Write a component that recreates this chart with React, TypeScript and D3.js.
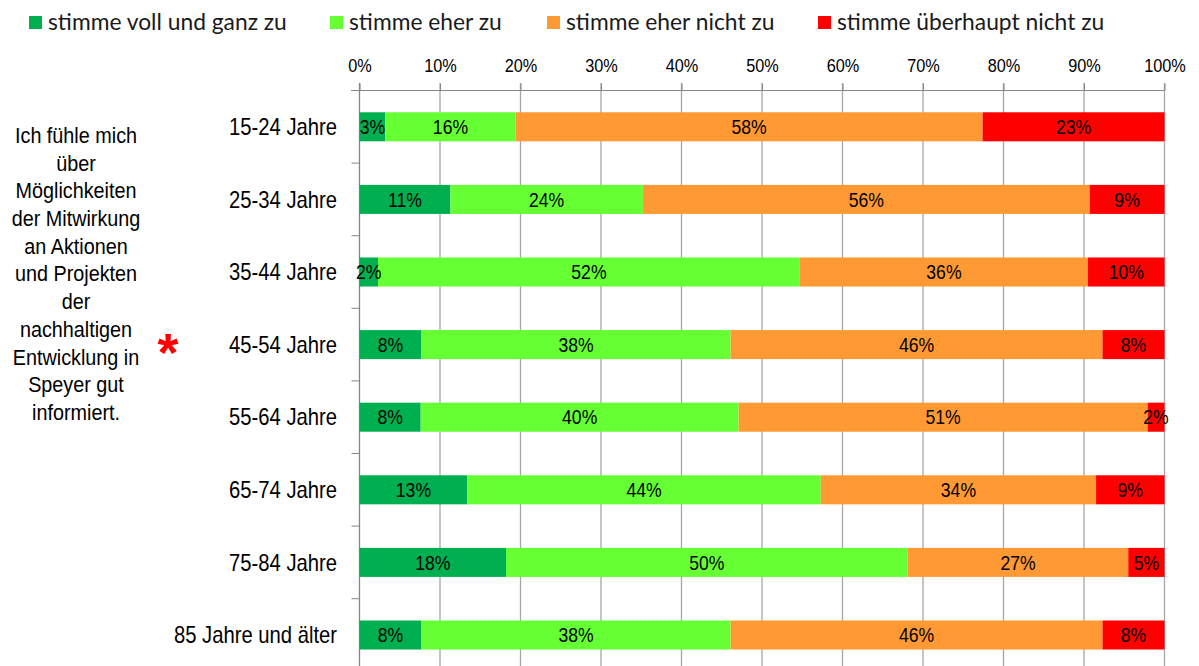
import React, { useEffect, useRef } from "react";
import * as d3 from "d3";

const categories = [
  "15-24 Jahre",
  "25-34 Jahre",
  "35-44 Jahre",
  "45-54 Jahre",
  "55-64 Jahre",
  "65-74 Jahre",
  "75-84 Jahre",
  "85 Jahre und älter",
];

const seriesNames = [
  "stimme voll und ganz zu",
  "stimme eher zu",
  "stimme eher nicht zu",
  "stimme überhaupt nicht zu",
];

const vollUndGanz = [3.2, 11.3, 2.3, 7.7, 7.6, 13.4, 18.2, 7.7];
const eherZu = [16.2, 23.9, 52.4, 38.4, 39.5, 43.9, 49.9, 38.4];
const eherNicht = [58.0, 55.5, 35.8, 46.2, 50.8, 34.2, 27.4, 46.2];
const ueberhauptNicht = [22.6, 9.3, 9.5, 7.7, 2.1, 8.5, 4.5, 7.7];

const tickValues = [0, 10, 20, 30, 40, 50, 60, 70, 80, 90, 100];

const questionLines = [
  "Ich fühle mich",
  "über",
  "Möglichkeiten",
  "der Mitwirkung",
  "an Aktionen",
  "und Projekten",
  "der",
  "nachhaltigen",
  "Entwicklung in",
  "Speyer gut",
  "informiert.",
];

const colors = ["#00b050", "#66ff33", "#ff9933", "#ff0000"];

const arial = "'Liberation Sans', Arial, sans-serif";

export default function App() {
  const ref = useRef<SVGSVGElement>(null);

  useEffect(() => {
    const svg = d3.select(ref.current);
    svg.selectAll("*").remove();

    const height = 666;

    const x = d3.scaleLinear().domain([0, 100]).range([359.5, 1164.5]);
    const y = d3
      .scaleBand()
      .domain(categories)
      .range([90.5, 90.5 + 8 * 72.6])
      .paddingInner(0.6)
      .paddingOuter(0.3);

    const series = [vollUndGanz, eherZu, eherNicht, ueberhauptNicht];

    // squeezed text, the original looks like a narrow Arial
    const narrowText = (sel, sx) =>
      sel.attr("transform", function (this: any) {
        const t = d3.select(this);
        return "translate(" + t.attr("x") + "," + t.attr("y") + ") scale(" + sx + ",1)";
      })
        .attr("x", 0)
        .attr("y", 0);

    // gridlines
    svg
      .append("g")
      .selectAll("line")
      .data(tickValues.slice(1))
      .enter()
      .append("line")
      .attr("x1", (d) => x(d))
      .attr("x2", (d) => x(d))
      .attr("y1", 83)
      .attr("y2", height)
      .attr("stroke", "#a6a6a6")
      .attr("stroke-width", 1.3);

    // top axis
    const axis = svg
      .append("g")
      .attr("transform", "translate(0,90.5)")
      .call(
        d3
          .axisTop(x)
          .tickValues(tickValues)
          .tickFormat((d) => d + "%")
          .tickSize(7)
          .tickSizeOuter(0)
          .tickPadding(12)
      );
    axis.select(".domain").attr("stroke", "#868686").attr("d", "M351,0H1164.5");
    axis.selectAll(".tick line").attr("stroke", "#868686");
    axis
      .selectAll(".tick text")
      .attr("x", 0)
      .attr("y", -19)
      .attr("dy", null)
      .attr("font-family", arial)
      .attr("font-size", 18.5)
      .attr("fill", "#000")
      .call(narrowText, 0.88);

    // left axis line + ticks
    svg
      .append("line")
      .attr("x1", x(0))
      .attr("x2", x(0))
      .attr("y1", 83)
      .attr("y2", height)
      .attr("stroke", "#868686")
      .attr("stroke-width", 1.3);
    svg
      .append("g")
      .selectAll("line")
      .data(d3.range(1, categories.length + 1))
      .enter()
      .append("line")
      .attr("x1", x(0) - 8)
      .attr("x2", x(0))
      .attr("y1", (i) => y.range()[0] + i * y.step())
      .attr("y2", (i) => y.range()[0] + i * y.step())
      .attr("stroke", "#868686");

    // stacked bars
    const stackData = categories.map((c, i) => {
      let acc = 0;
      return series.map((s, k) => {
        const seg = { cat: c, k, x0: acc, x1: acc + s[i], v: s[i] };
        acc += s[i];
        return seg;
      });
    });

    const rows = svg
      .append("g")
      .selectAll("g")
      .data(stackData)
      .enter()
      .append("g");

    rows
      .selectAll("rect")
      .data((d) => d)
      .enter()
      .append("rect")
      .attr("x", (d) => x(d.x0))
      .attr("y", (d) => y(d.cat)!)
      .attr("width", (d) => x(d.x1) - x(d.x0))
      .attr("height", y.bandwidth())
      .attr("fill", (d) => colors[d.k]);

    rows
      .selectAll("text")
      .data((d) => d)
      .enter()
      .append("text")
      .attr("x", (d) => (x(d.x0) + x(d.x1)) / 2)
      .attr("y", (d) => y(d.cat)! + y.bandwidth() / 2)
      .attr("dy", "0.36em")
      .attr("text-anchor", "middle")
      .attr("font-family", arial)
      .attr("font-size", 20)
      .attr("fill", "#000")
      .text((d) => Math.round(d.v) + "%")
      .call(narrowText, 0.88);

    // category labels
    svg
      .append("g")
      .selectAll("text")
      .data(categories)
      .enter()
      .append("text")
      .attr("x", 337)
      .attr("y", (d) => y(d)! + y.bandwidth() / 2)
      .attr("dy", "0.36em")
      .attr("text-anchor", "end")
      .attr("font-family", arial)
      .attr("font-size", 23)
      .attr("fill", "#000")
      .text((d) => d)
      .call(narrowText, 0.88);

    // question text
    svg
      .append("g")
      .selectAll("text")
      .data(questionLines)
      .enter()
      .append("text")
      .attr("x", 76)
      .attr("y", (d, i) => 135 + i * 27.7)
      .attr("dy", "0.36em")
      .attr("text-anchor", "middle")
      .attr("font-family", arial)
      .attr("font-size", 22)
      .attr("fill", "#000")
      .text((d) => d)
      .call(narrowText, 0.9);

    svg
      .append("text")
      .attr("x", 168)
      .attr("y", 371)
      .attr("text-anchor", "middle")
      .attr("font-family", arial)
      .attr("font-weight", "bold")
      .attr("font-size", 54)
      .attr("fill", "#ff0000")
      .text("*");

    // legend
    const legendX = [29, 330, 547, 818];
    const legend = svg
      .append("g")
      .selectAll("g")
      .data(seriesNames)
      .enter()
      .append("g")
      .attr("transform", (d, i) => "translate(" + legendX[i] + ",0)");
    legend
      .append("rect")
      .attr("x", 0)
      .attr("y", 16)
      .attr("width", 13)
      .attr("height", 13)
      .attr("fill", (d, i) => colors[i]);
    legend
      .append("text")
      .attr("x", 19)
      .attr("y", 30)
      .attr("font-family", "Lato, 'Open Sans', sans-serif")
      .attr("font-size", 22.8)
      .attr("fill", "#1a1a1a")
      .text((d) => d);
  }, []);

  return (
    <svg
      ref={ref}
      width={1199}
      height={666}
      style={{ position: "absolute", left: 0, top: 0, background: "#fff" }}
    />
  );
}
